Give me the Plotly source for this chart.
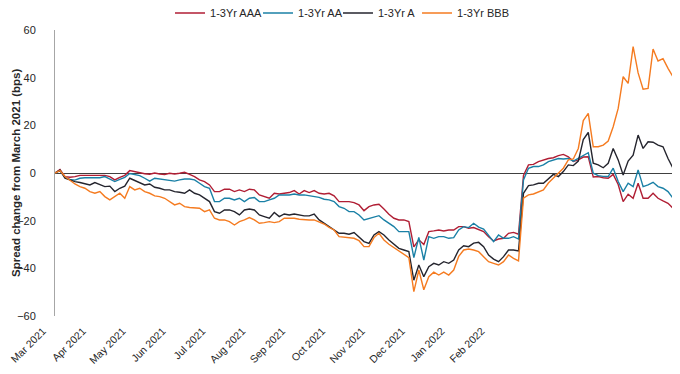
import plotly.graph_objects as go

tick_labels = ["Mar 2021", "Apr 2021", "May 2021", "Jun 2021", "Jul 2021", "Aug 2021",
               "Sep 2021", "Oct 2021", "Nov 2021", "Dec 2021", "Jan 2022", "Feb 2022"]
tick_positions = [0, 8, 16, 24, 32, 40, 48, 56, 64, 72, 80, 88]

aaa = [0, 1.5, -1.5, -1.8, -1.5, -1, -1, -1, -1.2, -1, -1, -1.5, -2.9, -1.8, -1, 1, 0.5, 0, -0.3, -0.5,
       0, -0.4, -0.6, -0.1, -0.4, -0.1, 0.3, -0.6, -1.5, -2.9, -3.6, -5, -7.8, -7.8, -6.8, -6.8, -7.8, -7.1, -7.8, -6.8,
       -7.1, -9.2, -10, -10.6, -8.5, -8.8, -8.5, -8.2, -7.4, -8.8, -7.4, -8.2, -7.4, -8.5, -8.8, -8.5, -9.6, -12, -12, -12,
       -12.4, -13.4, -15.8, -14.1, -13.4, -13.1, -15.1, -17.3, -19, -19.7, -19.7, -20.4, -31, -28, -30, -24.6, -24.3, -23.9, -24.3, -23.9,
       -23.9, -22.5, -22.5, -23.2, -22.9, -23.9, -24.6, -26.7, -28.5, -27.7, -27.4, -25.3, -24.9, -25.7, -1, 3.4, 3.6, 4.8, 5.5, 6.1,
       6.4, 7.3, 7.8, 6.8, 4.8, 5.5, 6.7, 6.8, -1.7, -1.5, -2, -2.2, -0.6, -4.8, -12, -8.9, -10.6, -4.3, -10.6, -10.6,
       -8.5, -10.6, -11.7, -12.7, -14.8]

aa = [0, 1, -1.8, -2.7, -3, -2.2, -2, -2, -2, -2, -1.5, -2.5, -3.6, -2.7, -1.8, -0.2, -0.8, -1.1, -2.2, -3.4,
      -2.2, -2.5, -2.9, -2.9, -3.4, -2.9, -2.5, -2.5, -2.9, -4.3, -5.7, -6.4, -12, -12, -10.6, -10.6, -11.3, -10.6, -12, -10.6,
      -10.3, -12, -12, -11.3, -10.6, -9.2, -9.2, -9.2, -8.8, -9.2, -9.2, -9.6, -9.9, -10.2, -11, -11.3, -12, -14.1, -14.8, -16.2,
      -16.2, -17.6, -19.7, -19, -18.3, -17.9, -19.7, -21.1, -22.5, -24.6, -24.6, -24.6, -35.5, -27, -36.5, -26.7, -27.4, -26.7, -26.7, -27.4,
      -27.1, -23.9, -22.5, -22.9, -21.1, -22.7, -23.5, -26, -28.8, -26, -27.4, -27.4, -26.7, -27.7, -2.9, 2, 2.7, 2.7, 3.4, 4.8,
      5.5, 6.1, 5.9, 6.1, 5, 6.1, 7.5, 8.5, -0.1, -1.1, -1.4, -1.5, 2, -3.6, -7.8, -4.3, -5.7, 1.3, -5.7, -5,
      -3.9, -5.7, -6.4, -7.8, -10.6]

a = [0, 1.2, -2.2, -3, -3.6, -4, -4.6, -5, -4, -5, -5.7, -5.5, -7.8, -6.4, -5.5, -2.2, -3.2, -4.3, -5, -4.6,
     -6, -6.4, -7.1, -7.1, -7.8, -8.1, -8.5, -7.1, -8.5, -9.2, -10.6, -12, -16.2, -16.9, -15.5, -15.5, -16.2, -17.6, -15.5, -15.1,
     -15.5, -17.6, -18.3, -19, -16.6, -18.3, -17.2, -17.6, -17.2, -17.6, -18, -18, -17.2, -19.7, -21.1, -22.5, -23.9, -25.3, -25.3, -25.7,
     -25, -26.7, -28.8, -29.5, -26, -24.6, -26, -28.1, -29.9, -31.6, -32.3, -33, -45, -38.6, -43.5, -39.3, -37.9, -38.6, -37.2, -37.9,
     -36.5, -32.3, -30.5, -30.9, -29.4, -29.1, -30.9, -34.4, -36.1, -37.2, -35.1, -32.3, -32.3, -32.7, -8.5, -5.3, -5, -4.3, -4.3, -2.5,
     -0.6, -1.5, 0.6, 3.4, 3.1, 5, 14, 17, 4.1, 3.4, 2.2, 4.1, 10.3, 5.5, -0.8, 5, 7.5, 15.9, 10.3, 13.1,
     12.9, 11.7, 11, 6.1, 2]

bbb = [0, 1, -1.5, -3.2, -4.6, -5.7, -6.4, -7.8, -8.5, -7.8, -9.9, -11.3, -9.9, -8.5, -10.6, -5.7, -7.1, -6.4, -7.8, -8.5,
       -9.6, -9.9, -10.6, -12, -13.4, -12.7, -14.1, -14.5, -14.5, -14.8, -16.2, -15.5, -19, -19.7, -19.7, -20.4, -21.8, -20.4, -19.7, -18.7,
       -19.7, -21.1, -20.8, -20.4, -20.8, -20.4, -19, -19, -19, -19.4, -19.7, -19.7, -19.7, -20.4, -21.4, -22.8, -23.9, -26.7, -27, -27,
       -27.4, -28.4, -30.9, -30.9, -27.1, -25.3, -28.1, -29.9, -31.3, -33, -34.4, -35.5, -49.8, -40.7, -49, -43.5, -41.6, -42.8, -41.6, -42.8,
       -40.7, -35, -32.3, -31.9, -32.3, -33, -35.1, -37.2, -37.9, -38.6, -37.2, -34.4, -35.8, -36.9, -10.6, -9.2, -8.8, -7.8, -7.1, -4.2,
       -2.1, -0.4, 2, 5.5, 5.9, 10.3, 22, 25, 11, 11, 11.7, 13.4, 19.4, 27.1, 40.4, 37.6, 53, 42, 35.2, 35.5,
       52, 47, 48, 43.9, 40.4]

series = [
    ("1-3Yr AAA", aaa, "#B01E34", "legend", 0.1861),
    ("1-3Yr AA", aa, "#1A80A6", "legend2", 0.3285),
    ("1-3Yr A", a, "#25252E", "legend3", 0.4579),
    ("1-3Yr BBB", bbb, "#F57B20", "legend4", 0.5858),
]

font_family = "Liberation Sans, Arial, sans-serif"
plot_w = 618

fig = go.Figure()
legends = {}
for name, vals, color, leg, lx in series:
    fig.add_trace(go.Scatter(
        x=list(range(len(vals))), y=vals, name=name, mode="lines",
        line=dict(color=color, width=1.4), legend=leg,
    ))
    legends[leg] = dict(orientation="h", x=lx, xanchor="left", y=1.0594, yanchor="middle",
                        font=dict(size=11, color="#262626"), bgcolor="rgba(0,0,0,0)",
                        itemwidth=30, borderwidth=0)

fig.update_layout(
    width=672, height=366,
    margin=dict(l=47, r=7, t=22, b=58, autoexpand=False),
    paper_bgcolor="white", plot_bgcolor="white",
    font=dict(family=font_family, size=11, color="#262626"),
    showlegend=True,
    xaxis=dict(
        range=[0, len(aaa) - 1], automargin=False,
        tickmode="array", tickvals=tick_positions, ticktext=tick_labels,
        tickangle=-45, showgrid=False, zeroline=False, showline=False,
        ticks="", tickfont=dict(size=10.5, color="#262626"),
        ticklabelshift=-12, ticklabelstandoff=6, ticklabeloverflow="allow",
    ),
    yaxis=dict(
        range=[-60, 60], dtick=20, tick0=0, automargin=False,
        showgrid=False, zeroline=True, zerolinecolor="#404040", zerolinewidth=1,
        showline=True, linecolor="#A6A6A6", linewidth=1,
        ticks="", tickfont=dict(size=11, color="#262626"),
        ticklabelstandoff=16,
    ),
    annotations=[dict(
        text="<b>Spread change from March 2021 (bps)</b>",
        xref="paper", yref="paper", x=(8 - 47) / plot_w, y=0.5,
        xanchor="center", yanchor="middle", textangle=-90, showarrow=False,
        font=dict(size=11.5, color="#262626"),
    )],
    **legends,
)

fig.write_html("out.html")
